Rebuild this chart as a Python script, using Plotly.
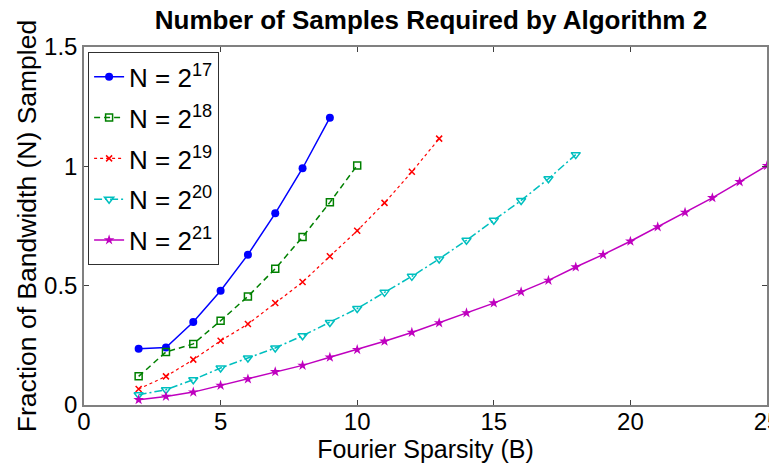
import plotly.graph_objects as go

x17 = [2, 3, 4, 5, 6, 7, 8, 9]
y17 = [0.236, 0.241, 0.348, 0.479, 0.630, 0.803, 0.992, 1.204]

x18 = [2, 3, 4, 5, 6, 7, 8, 9, 10]
y18 = [0.120, 0.222, 0.256, 0.353, 0.455, 0.571, 0.704, 0.849, 1.004]

x19 = list(range(2, 14))
y19 = [0.067, 0.120, 0.190, 0.269, 0.339, 0.427, 0.515, 0.623, 0.730, 0.847, 0.977, 1.116]

x20 = list(range(2, 19))
y20 = [0.043, 0.064, 0.106, 0.155, 0.197, 0.239, 0.290, 0.346, 0.404, 0.472,
       0.539, 0.612, 0.690, 0.774, 0.857, 0.948, 1.049]

x21 = list(range(2, 26))
y21 = [0.022, 0.036, 0.054, 0.082, 0.109, 0.139, 0.166, 0.200, 0.232, 0.267,
       0.304, 0.344, 0.386, 0.427, 0.474, 0.522, 0.578, 0.630, 0.686, 0.746,
       0.807, 0.868, 0.935, 1.003]

names = ["N = 2<sup>17</sup>", "N = 2<sup>18</sup>", "N = 2<sup>19</sup>",
         "N = 2<sup>20</sup>", "N = 2<sup>21</sup>"]

FONT = "Liberation Sans, Arial"

fig = go.Figure()
fig.add_trace(go.Scatter(x=x17, y=y17, name=names[0], legendgroup="a", mode="lines+markers",
                         line=dict(color="#0000FF", width=1.5, dash="solid"),
                         marker=dict(symbol="circle", size=8, color="#0000FF")))
fig.add_trace(go.Scatter(x=x18, y=y18, name=names[1], legendgroup="b", mode="lines+markers",
                         line=dict(color="#008000", width=1.5, dash="6px,4px"),
                         marker=dict(symbol="square-open", size=7, color="#008000",
                                     line=dict(width=1.5))))
fig.add_trace(go.Scatter(x=x19, y=y19, name=names[2], legendgroup="c", mode="lines+markers",
                         line=dict(color="#FF0000", width=1.2, dash="dot"),
                         marker=dict(symbol="x-thin-open", size=6, color="#FF0000",
                                     line=dict(width=1.5, color="#FF0000"))))
fig.add_trace(go.Scatter(x=x20, y=y20, name=names[3], legendgroup="d", mode="lines+markers",
                         line=dict(color="#00BFBF", width=1.5, dash="8px,3px,2px,3px"),
                         marker=dict(symbol="triangle-down-open", size=8, color="#00BFBF",
                                     line=dict(width=1.5))))
fig.add_trace(go.Scatter(x=x21, y=y21, name=names[4], legendgroup="e", mode="lines+markers",
                         line=dict(color="#BF00BF", width=1.5, dash="solid"),
                         marker=dict(symbol="star", size=8, color="#BF00BF")))

fig.update_traces(cliponaxis=False)

axis_common = dict(
    showgrid=False, zeroline=False, showline=True, mirror="ticks",
    linecolor="#808080", linewidth=1.5, ticks="inside", ticklen=5,
    tickcolor="#404040", tickfont=dict(family=FONT, size=24, color="black"),
    automargin=False, ticklabeloverflow="allow",
)

# page body has an 8px default margin, so the figure is sized to fit the window
fig.update_layout(
    width=769, height=458,
    paper_bgcolor="white", plot_bgcolor="white",
    margin=dict(l=76, r=10, t=39, b=61),
    title=dict(text="<b>Number of Samples Required by Algorithm 2</b>",
               x=0.550, xanchor="center", y=0.975, yanchor="middle",
               font=dict(family=FONT, size=26, color="black"), automargin=False),
    xaxis=dict(range=[0, 25], tickvals=[0, 5, 10, 15, 20, 25],
               ticklabelstandoff=-6,
               title=dict(text="Fourier Sparsity (B)", standoff=0,
                          font=dict(family=FONT, size=25, color="black")),
               **axis_common),
    yaxis=dict(range=[0, 1.5], tickvals=[0, 0.5, 1, 1.5], ticktext=["0", "0.5", "1", "1.5"],
               title=dict(text="Fraction of Bandwidth (N) Sampled", standoff=0,
                          font=dict(family=FONT, size=26.5, color="black")),
               **axis_common),
    legend=dict(x=0.006, y=0.985, xanchor="left", yanchor="top",
                bgcolor="white", bordercolor="#303030", borderwidth=1,
                font=dict(family=FONT, size=26, color="black"),
                itemwidth=30, tracegroupgap=4),
    showlegend=True,
)

fig.write_html("out.html")
